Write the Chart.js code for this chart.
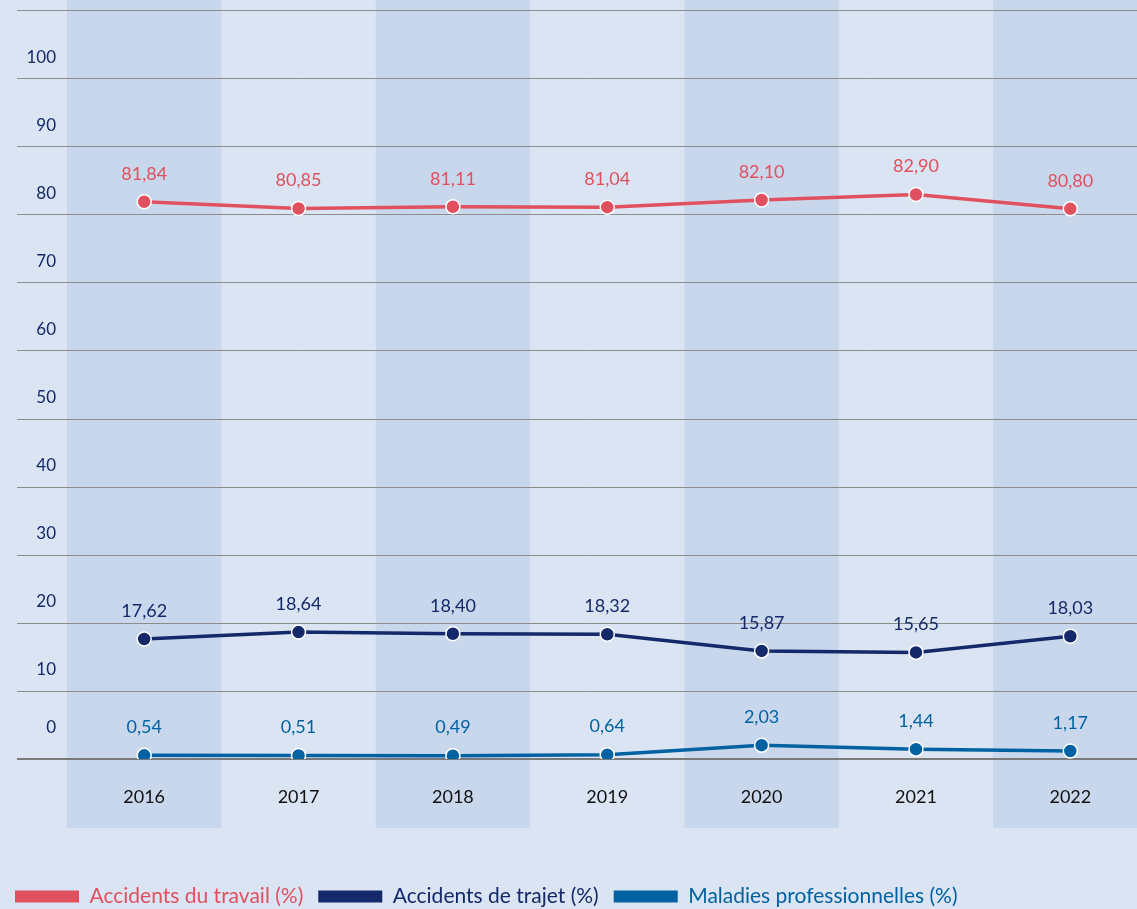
<!DOCTYPE html>
<html>
<head>
<meta charset="utf-8">
<script src="https://cdn.jsdelivr.net/npm/chart.js@4/dist/chart.umd.min.js"></script>
<style>
html,body{margin:0;padding:0;overflow:hidden;background:#dbe4f2;}
#wrap{width:1156px;height:909px;}
</style>
</head>
<body>
<div id="wrap"><canvas id="c"></canvas></div>
<script>
const years = ['2016','2017','2018','2019','2020','2021','2022'];
const accidentsTravail = [81.84, 80.85, 81.11, 81.04, 82.10, 82.90, 80.80];
const accidentsTrajet = [17.62, 18.64, 18.40, 18.32, 15.87, 15.65, 18.03];
const maladiesPro = [0.54, 0.51, 0.49, 0.64, 2.03, 1.44, 1.17];
const seriesNames = ['Accidents du travail (%)', 'Accidents de trajet (%)', 'Maladies professionnelles (%)'];
const seriesColors = ['#e0505e', '#13296a', '#0062a3'];
const yTicks = [0,10,20,30,40,50,60,70,80,90,100];

const FONT = 'Lato, "Open Sans", sans-serif';

const bgPlugin = {
  id: 'bg',
  beforeDraw(chart){
    const {ctx, scales:{x,y}} = chart;
    ctx.save();
    ctx.fillStyle = '#dbe4f2';
    ctx.fillRect(0,0,chart.width,chart.height);
    const w = x.width / years.length;
    ctx.fillStyle = '#c9d7ec';
    years.forEach((yr,i)=>{
      if(i%2===0){
        const cx = x.getPixelForValue(i);
        ctx.fillRect(cx - w/2, 0, w, 828);
      }
    });
    for(let v=10; v<=110; v+=10){
      const py = Math.round(y.getPixelForValue(v)) + 0.5;
      ctx.strokeStyle = '#8c8c8c';
      ctx.lineWidth = 1;
      ctx.beginPath(); ctx.moveTo(17, py); ctx.lineTo(chart.width, py); ctx.stroke();
    }
    const p0 = Math.round(y.getPixelForValue(0));
    ctx.strokeStyle = '#7a7a7a';
    ctx.lineWidth = 2;
    ctx.beginPath(); ctx.moveTo(17, p0); ctx.lineTo(chart.width, p0); ctx.stroke();
    ctx.restore();
  }
};

const labelPlugin = {
  id: 'vals',
  afterDatasetsDraw(chart){
    const ctx = chart.ctx;
    ctx.save();
    ctx.font = '18px ' + FONT;
    ctx.textAlign = 'center';
    ctx.textBaseline = 'middle';
    chart.data.datasets.forEach((ds,i)=>{
      const meta = chart.getDatasetMeta(i);
      ctx.fillStyle = ds.borderColor;
      meta.data.forEach((pt,j)=>{
        const txt = ds.data[j].toFixed(2).replace('.', ',');
        ctx.fillText(txt, pt.x, pt.y - 28);
      });
    });
    ctx.restore();
  }
};

const datasets = [accidentsTravail, accidentsTrajet, maladiesPro].map((d,i)=>({
  label: seriesNames[i],
  data: d,
  borderColor: seriesColors[i],
  backgroundColor: seriesColors[i],
  pointBackgroundColor: seriesColors[i],
  pointBorderColor: '#ffffff',
  pointBorderWidth: 1.5,
  pointRadius: 7,
  borderWidth: 3.5,
  tension: 0
}));

new Chart(document.getElementById('c'), {
  type: 'line',
  data: { labels: years, datasets },
  options: {
    responsive: true,
    maintainAspectRatio: false,
    animation: false,
    layout: { padding: { top: 10, left: 0, right: 0, bottom: -8 } },
    scales: {
      x: {
        offset: true,
        grid: { display: false, drawTicks: false },
        border: { display: false },
        ticks: { color: '#111111', font: { family: FONT, size: 18 }, padding: 27, maxRotation: 0 },
        afterFit(s){ s.height = 112; s.paddingLeft = 0; s.paddingRight = 0; }
      },
      y: {
        min: 0, max: 110,
        grid: { display: false, drawTicks: false },
        border: { display: false },
        ticks: {
          stepSize: 10,
          color: '#13296a',
          font: { family: FONT, size: 17 },
          padding: 11,
          labelOffset: -21,
          callback: (v) => v === 0 ? ['0', ''] : (yTicks.includes(v) ? String(v) : '')
        },
        afterFit(s){ s.width = 67; s.paddingTop = 0; s.paddingBottom = 0; }
      }
    },
    plugins: {
      legend: {
        position: 'bottom',
        align: 'start',
        labels: {
          boxWidth: 64,
          boxHeight: 12,
          padding: 15,
          font: { family: FONT, size: 21 },
          generateLabels(chart){
            return chart.data.datasets.map((ds,i)=>({
              text: ds.label,
              fillStyle: ds.borderColor,
              strokeStyle: ds.borderColor,
              lineWidth: 0,
              fontColor: ds.borderColor,
              hidden: false,
              datasetIndex: i
            }));
          }
        }
      },
      tooltip: { enabled: false }
    }
  },
  plugins: [bgPlugin, labelPlugin]
});
</script>
</body>
</html>
